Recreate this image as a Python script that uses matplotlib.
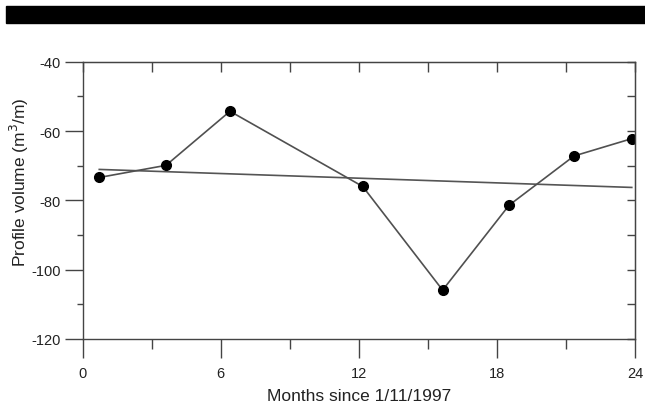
import numpy as np
import matplotlib
matplotlib.use('Agg')
from matplotlib import pyplot as plt
from matplotlib.patches import Rectangle
from matplotlib.ticker import MultipleLocator

# values
months = [0.72, 3.62, 6.40, 12.17, 15.64, 18.53, 21.35, 23.86]
volume = [-73.4, -69.9, -54.3, -76.0, -105.9, -81.4, -67.2, -62.2]
x_ticks = [0, 6, 12, 18, 24]
y_ticks = [-40, -60, -80, -100, -120]

plt.rcParams['font.family'] = ['Liberation Sans', 'DejaVu Sans']
plt.rcParams['axes.unicode_minus'] = False
axcol = '#444444'

fig = plt.figure(figsize=(6.45, 4.10), dpi=100)
# black band across the top
fig.patches.append(Rectangle((6/645, 1-24/410), 1, 17/410, transform=fig.transFigure,
                             color='black', zorder=0))

ax = fig.add_axes([82.7/645, 1-340/410, (635-82.7)/645, (340-62.7)/410])
ax.set_xlim(0, 24)
ax.set_ylim(-120, -40)

# trend (least squares)
k, b = np.polyfit(months, volume, 1)
tx = np.array([months[0], months[-1]])
ax.plot(tx, k*tx + b, color='#555555', lw=1.2)
ax.plot(months, volume, color='#505050', lw=1.2, marker='o', ms=7,
        mfc='black', mec='black')

for s in ax.spines.values():
    s.set_color(axcol)
    s.set_linewidth(1.0)

ax.set_xticks(x_ticks)
ax.set_yticks(y_ticks)
ax.xaxis.set_minor_locator(MultipleLocator(3))
ax.yaxis.set_minor_locator(MultipleLocator(10))
ax.tick_params(axis='x', which='major', direction='out', length=14, width=1,
               color=axcol, top=False, labelsize=10.5, pad=5.5, labelcolor='#222222')
ax.tick_params(axis='x', which='minor', direction='out', length=7, width=1,
               color=axcol, top=False)
ax.tick_params(axis='y', which='major', direction='out', length=13, width=1,
               color=axcol, right=False, labelsize=10.5, pad=3, labelcolor='#222222')
ax.tick_params(axis='y', which='minor', direction='out', length=4, width=1,
               color=axcol, right=False)

top = ax.secondary_xaxis('top')
top.set_xticks(np.arange(0, 25, 3))
top.tick_params(direction='in', length=7, width=1, color=axcol, labeltop=False)
top.spines['top'].set_color(axcol)
right = ax.secondary_yaxis('right')
right.set_yticks(np.arange(-120, -39, 10))
right.tick_params(direction='in', length=6, width=1, color=axcol, labelright=False)
right.spines['right'].set_color(axcol)

ax.set_xlabel('Months since 1/11/1997', fontsize=12.5, labelpad=6, color='#222222')
ax.set_ylabel('Profile volume (m$^3$/m)', fontsize=12.5, color='#222222')
ax.yaxis.set_label_coords(-0.094, 0.57)

fig.savefig('out.png', dpi=100)
